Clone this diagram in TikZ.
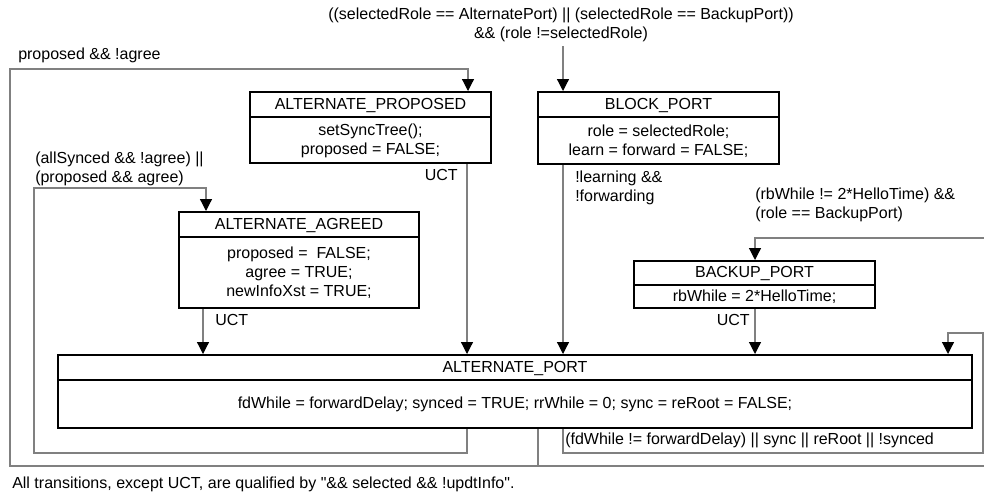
\documentclass[tikz,border=0pt]{standalone}
\usepackage{fontspec}
\setmainfont{Liberation Sans}[Ligatures=TeXOff]
\usetikzlibrary{arrows.meta,fit}
\definecolor{linegray}{RGB}{128,128,128}
\begin{document}
\begin{tikzpicture}[x=0.75pt,y=-0.75pt,
  every node/.style={font=\fontsize{12}{14.3}\selectfont, inner sep=0pt},
  state/.style={draw=black, line width=1.5pt, inner sep=0pt},
  sep/.style={draw=black, line width=1.5pt},
  conn/.style={draw=linegray, line width=0.9pt},
  arr/.style={conn, -{Triangle[width=9pt,length=9pt,color=black,fill=black]}},
  lbl/.style={anchor=west},
  rlbl/.style={anchor=east},
]
\useasboundingbox (0,0) rectangle (984,497);

% ---- states ----
\node[state, fit={(250,92) (491,163)}] (prop) {};
\draw[sep] (prop.west |- 0,117) -- (prop.east |- 0,117);
\node (propH) at (370.5,105) {ALTERNATE\_PROPOSED};
\node[align=center] (propB) at (370.5,141) {setSyncTree();\\proposed = FALSE;};

\node[state, fit={(538,92) (779,164)}] (blk) {};
\draw[sep] (blk.west |- 0,117) -- (blk.east |- 0,117);
\node (blkH) at (658.5,105) {BLOCK\_PORT};
\node[align=center] (blkB) at (658.5,141) {role = selectedRole;\\learn = forward = FALSE;};

\node[state, fit={(179,212) (419,308)}] (agr) {};
\draw[sep] (agr.west |- 0,237) -- (agr.east |- 0,237);
\node (agrH) at (299,225) {ALTERNATE\_AGREED};
\node[align=center] (agrB) at (299,273) {proposed = \ FALSE;\\agree = TRUE;\\newInfoXst = TRUE;};

\node[state, fit={(634,261) (875,308)}] (bkp) {};
\draw[sep] (bkp.west |- 0,285) -- (bkp.east |- 0,285);
\node (bkpH) at (754.5,273) {BACKUP\_PORT};
\node (bkpB) at (754.5,297) {rbWhile = 2*HelloTime;};

\node[state, fit={(58,355) (972,428)}] (alt) {};
\draw[sep] (alt.west |- 0,380) -- (alt.east |- 0,380);
\node (altH) at (515,368) {ALTERNATE\_PORT};
\node (altB) at (515,404) {fdWhile = forwardDelay; synced = TRUE; rrWhile = 0; sync = reRoot = FALSE;};

% ---- connectors ----
\coordinate (topsrc) at (563,46);
\draw[arr] (topsrc) -- (topsrc |- blk.north);

\draw[arr] (prop.south -| 467,0) -- (alt.north -| 467,0);
\draw[arr] (blk.south -| 563,0) -- (alt.north -| 563,0);
\draw[arr] (agr.south -| 203,0) -- (alt.north -| 203,0);
\draw[arr] (bkp.south -| 755,0) -- (alt.north -| 755,0);

% self loop
\draw[arr] (alt.south -| 563,0) -- (563,453) -- (983,453) -- (983,333) -- (948,333) -- (alt.north -| 948,0);

% inner loop to ALTERNATE_AGREED
\draw[arr] (alt.south -| 467,0) -- (467,453) -- (34,453) -- (34,188) -- (206,188) -- (agr.north -| 206,0);

% outer trunk
\coordinate (trunk) at (538,466);
\draw[conn] (alt.south -| trunk) -- (trunk);
\draw[arr] (trunk) -- (10,466) -- (10,69) -- (468,69) -- (prop.north -| 468,0);
\draw[arr] (trunk) -- (992,466) -- (992,238) -- (755,238) -- (bkp.north -| 755,0);

% ---- labels ----
\node[align=center] (ltop) at (561,25) {((selectedRole == AlternatePort) || (selectedRole == BackupPort))\\\&\& (role !=selectedRole)};
\node[lbl] (lprop) at (18,55) {proposed \&\& !agree};
\node[lbl, align=left] (lagr) at (35,169) {(allSynced \&\& !agree) ||\\(proposed \&\& agree)};
\node[rlbl] (uct1) at (458,175) {UCT};
\node[lbl] (uct2) at (215,320) {UCT};
\node[rlbl] (uct3) at (750,320) {UCT};
\node[lbl, align=left] (lblk) at (575,188) {!learning \&\&\\!forwarding};
\node[lbl, align=left] (lbkp) at (755,205) {(rbWhile != 2*HelloTime) \&\&\\(role == BackupPort)};
\node[lbl] (lself) at (565,440) {(fdWhile != forwardDelay) || sync || reRoot || !synced};
\node[lbl] (foot) at (12,484) {All transitions, except UCT, are qualified by "\&\& selected \&\& !updtInfo".};
\end{tikzpicture}
\end{document}
